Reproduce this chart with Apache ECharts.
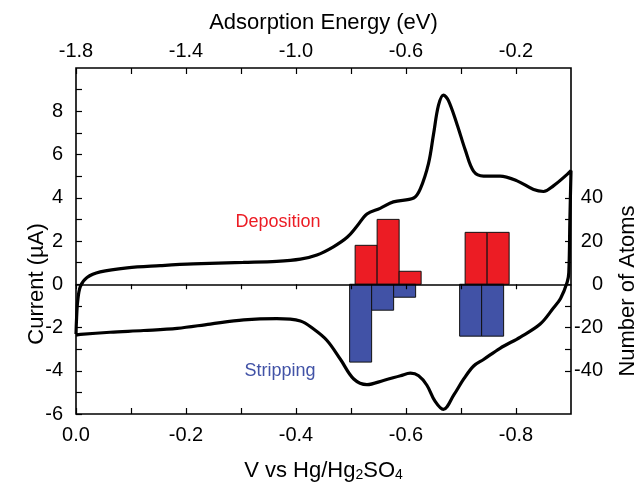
<!DOCTYPE html>
<html><head><meta charset="utf-8">
<script src="https://cdn.jsdelivr.net/npm/echarts@6/dist/echarts.min.js"></script>
<style>html,body{margin:0;padding:0;background:#fff}#c{width:639px;height:487px}</style>
</head><body><div id="c"></div>
<script>
// Cyclic voltammogram (V vs Hg/Hg2SO4, current in µA), traced as one closed loop
const cvVoltage = [0.000,-0.001,-0.003,-0.008,-0.020,-0.044,-0.093,-0.153,-0.213,-0.304,-0.365,-0.408,-0.438,-0.468,-0.493,-0.511,-0.529,-0.553,-0.577,-0.614,-0.626,-0.641,-0.650,-0.659,-0.668,-0.677,-0.693,-0.708,-0.723,-0.741,-0.771,-0.802,-0.832,-0.850,-0.868,-0.893,-0.900,
  -0.898,-0.896,-0.893,-0.881,-0.868,-0.844,-0.808,-0.771,-0.741,-0.723,-0.705,-0.687,-0.668,-0.653,-0.638,-0.623,-0.608,-0.590,-0.559,-0.529,-0.505,-0.481,-0.456,-0.432,-0.408,-0.365,-0.305,-0.244,-0.184,-0.123,-0.062,-0.008,0.000];
const cvCurrent = [-2.30,-1.60,-0.80,-0.10,0.31,0.57,0.76,0.86,0.94,1.01,1.06,1.16,1.35,1.73,2.17,2.69,3.25,3.51,3.81,3.99,4.41,5.59,6.93,8.27,8.75,8.50,7.38,6.19,5.22,5.00,5.00,4.78,4.38,4.29,4.55,5.08,5.25,
  3.00,0.54,0.09,-0.66,-1.10,-1.84,-2.44,-2.96,-3.48,-3.78,-4.38,-5.12,-5.79,-5.42,-4.67,-4.23,-4.11,-4.23,-4.45,-4.64,-4.38,-3.48,-2.59,-2.07,-1.70,-1.59,-1.65,-1.84,-2.04,-2.14,-2.22,-2.32,-2.35];

// Histograms vs adsorption energy (eV), number of atoms
const binWidth = 0.08;
const depositionEnergy = [-0.745,-0.665,-0.585,-0.345,-0.265];
const depositionAtoms  = [18,30,6,24,24];
const strippingEnergy  = [-0.765,-0.685,-0.605,-0.365,-0.285];
const strippingAtoms   = [-36,-12,-6,-24,-24];

// Tick labels
const voltageLabels = [0,-0.2,-0.4,-0.6,-0.8];
const voltageTicks = [0,-0.1,-0.2,-0.3,-0.4,-0.5,-0.6,-0.7,-0.8];
const energyLabels = [-1.8,-1.4,-1.0,-0.6,-0.2];
const energyTicks = [-1.8,-1.6,-1.4,-1.2,-1.0,-0.8,-0.6,-0.4,-0.2];
const currentLabels = [-6,-4,-2,0,2,4,6,8];
const currentTicks = [-6,-5,-4,-3,-2,-1,0,1,2,3,4,5,6,7,8,9];
const atomLabels = [-40,-20,0,20,40];
const atomTicks = [-40,-30,-20,-10,0,10,20,30,40];

const FONT = '"Liberation Sans", Arial, Helvetica, sans-serif';
const chart = echarts.init(document.getElementById('c'), null, {renderer:'canvas'});

function barRenderer(color){
  return function(params, api){
    const x = api.value(0), v = api.value(1);
    const p0 = api.coord([x - binWidth/2, 0]);
    const p1 = api.coord([x + binWidth/2, v]);
    return {type:'rect',
      shape:{x:Math.min(p0[0],p1[0]), y:Math.min(p0[1],p1[1]), width:Math.abs(p1[0]-p0[0]), height:Math.abs(p1[1]-p0[1])},
      style:{fill:color, stroke:'#111', lineWidth:1}};
  };
}
const tickStyle = {color:'#000', width:1.2};
const labelStyle = {color:'#000', fontFamily:FONT, fontSize:20};

chart.setOption({
  animation:false,
  grid:{left:76, right:68, top:68, bottom:60, show:true, borderColor:'#000', borderWidth:1.6, backgroundColor:'transparent'},
  xAxis:[
    {type:'value', min:-0.9, max:0, inverse:true, position:'bottom', gridIndex:0,
     axisLine:{show:false, onZero:false},
     axisTick:{inside:true, length:6, lineStyle:tickStyle, customValues:voltageTicks},
     axisLabel:Object.assign({margin:11, customValues:voltageLabels, formatter:v=>v.toFixed(1)}, labelStyle),
     splitLine:{show:false},
     name:'V vs Hg/Hg{s|2}SO{s|4}', nameLocation:'middle', nameGap:46, nameMoveOverlap:false,
     nameTextStyle:{color:'#000', fontFamily:FONT, fontSize:22, rich:{s:{fontFamily:FONT, fontSize:14, color:'#000', verticalAlign:'bottom', padding:[8,0,0,0]}}}},
    {type:'value', min:-1.8, max:0, position:'top', gridIndex:0,
     axisLine:{show:false, onZero:false},
     axisTick:{inside:true, length:6, lineStyle:tickStyle, customValues:energyTicks},
     axisLabel:Object.assign({margin:7, customValues:energyLabels, formatter:v=>v.toFixed(1)}, labelStyle),
     splitLine:{show:false},
     name:'Adsorption Energy (eV)', nameLocation:'middle', nameGap:34, nameMoveOverlap:false,
     nameTextStyle:{color:'#000', fontFamily:FONT, fontSize:22}},
    {type:'value', min:-0.9, max:0, inverse:true, position:'bottom', gridIndex:0, z:10,
     axisLine:{show:true, onZero:true, onZeroAxisIndex:0, lineStyle:{color:'#000', width:1.5}},
     axisTick:{inside:false, length:5, lineStyle:tickStyle, customValues:voltageTicks},
     axisLabel:{show:false}, splitLine:{show:false}}
  ],
  yAxis:[
    {type:'value', min:-6, max:10, position:'left', gridIndex:0,
     axisLine:{show:false, onZero:false},
     axisTick:{inside:true, length:6, lineStyle:tickStyle, customValues:currentTicks},
     axisLabel:Object.assign({margin:13, customValues:currentLabels}, labelStyle),
     splitLine:{show:false}},
    {type:'value', min:-60, max:100, position:'right', gridIndex:0,
     axisLine:{show:false, onZero:false},
     axisTick:{inside:true, length:6, lineStyle:tickStyle, customValues:atomTicks},
     axisLabel:Object.assign({margin:32, align:'right', customValues:atomLabels}, labelStyle),
     splitLine:{show:false}}
  ],
  series:[
    {type:'custom', name:'Deposition', xAxisIndex:1, yAxisIndex:1, z:3,
     renderItem:barRenderer('#ec1c24'),
     data:depositionEnergy.map((e,i)=>[e, depositionAtoms[i]])},
    {type:'custom', name:'Stripping', xAxisIndex:1, yAxisIndex:1, z:3,
     renderItem:barRenderer('#4152a6'),
     data:strippingEnergy.map((e,i)=>[e, strippingAtoms[i]])},
    {type:'line', name:'CV', xAxisIndex:0, yAxisIndex:0, z:4,
     showSymbol:false, smooth:0.35, lineStyle:{color:'#000', width:3.2},
     data:cvVoltage.map((v,i)=>[v, cvCurrent[i]])}
  ],
  graphic:[
    {type:'text', x:37, y:284, rotation:Math.PI/2,
     style:{text:'Current (µA)', fontFamily:FONT, fontSize:22, fill:'#000', align:'center', verticalAlign:'middle'}},
    {type:'text', x:628, y:291, rotation:Math.PI/2,
     style:{text:'Number of Atoms', fontFamily:FONT, fontSize:22, fill:'#000', align:'center', verticalAlign:'middle'}},
    {type:'text', x:278, y:222,
     style:{text:'Deposition', fontFamily:FONT, fontSize:18, fill:'#ec1c24', align:'center', verticalAlign:'middle'}},
    {type:'text', x:280, y:371,
     style:{text:'Stripping', fontFamily:FONT, fontSize:18, fill:'#4152a6', align:'center', verticalAlign:'middle'}}
  ]
});
</script>
</body></html>
